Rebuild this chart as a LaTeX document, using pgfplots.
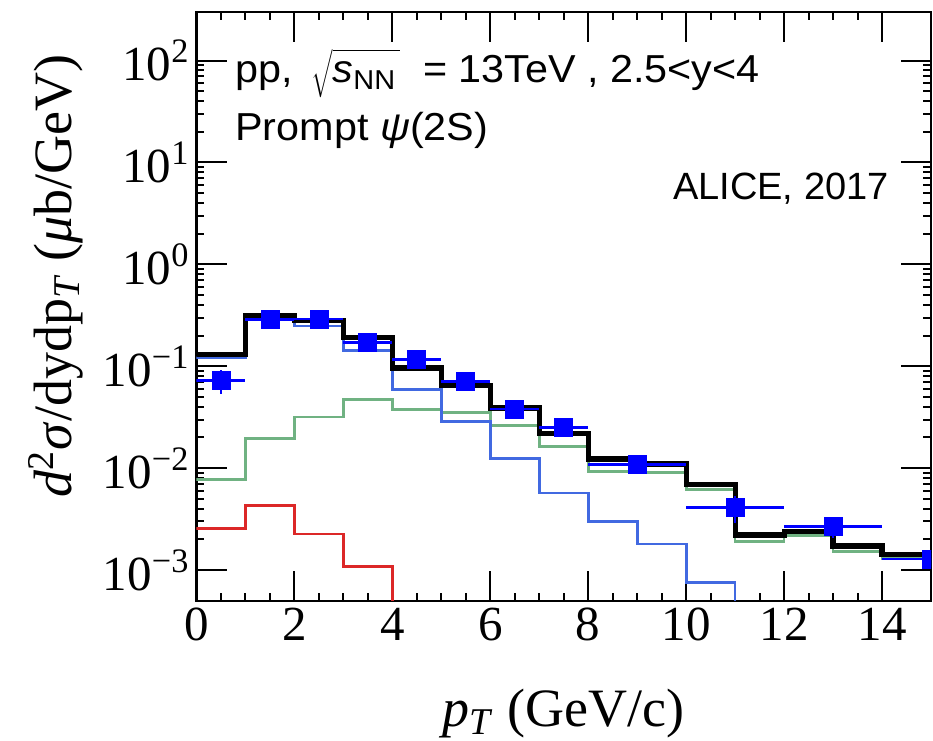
\documentclass[border=0pt]{standalone}
\usepackage{fontspec}
\setmainfont{Liberation Serif}
\newfontfamily\helv{Liberation Sans}
\usepackage{pgfplots}
\pgfplotsset{compat=1.18}

\definecolor{histblue}{RGB}{65,105,225}
\definecolor{histgreen}{RGB}{112,178,130}
\definecolor{histred}{RGB}{220,40,40}
\definecolor{datablue}{RGB}{0,0,255}

\begin{document}
\begin{tikzpicture}
\path[use as bounding box] (-98.25pt,-69.65pt) rectangle (368.25pt,300.35pt);
\begin{axis}[
  at={(0pt,0pt)}, anchor=south west,
  scale only axis, width=367.25pt, height=294.35pt,
  xmin=0, xmax=15,
  ymode=log, ymin=5e-4, ymax=3e2,
  xtick={0,2,...,14}, minor x tick num=3,
  ytick={1e-3,1e-2,1e-1,1,10,100},
  yticklabels={10\textsuperscript{−3},10\textsuperscript{−2},10\textsuperscript{−1},10\textsuperscript{0},10\textsuperscript{1},10\textsuperscript{2}},
  tick align=inside,
  xtick pos=both, ytick pos=both,
  major tick length=15pt, minor tick length=4pt,
  axis line style={line width=1.1pt},
  every tick/.style={black, line width=1pt},
  /pgf/number format/assume math mode=true,
  ticklabel style={font=\fontsize{24.5}{29}\selectfont},
  clip marker paths=true,
]
% feed-down / non-prompt contributions
\addplot[histred, line width=1.35pt, const plot, forget plot] coordinates {
  (0,0.00257) (1,0.0043) (2,0.00226) (3,0.00108) (4,1e-5)};
\addplot[histgreen, line width=1.35pt, const plot, forget plot] coordinates {
  (0,0.00769) (1,0.0196) (2,0.0318) (3,0.0471) (4,0.0376) (5,0.0353)
  (6,0.0264) (7,0.0162) (8,0.0093) (9,0.0091) (10,0.00622) (11,0.0019)
  (12,0.00218) (13,0.00151) (14,0.0013) (15,0.0013)};
\addplot[histblue, line width=1.35pt, const plot, forget plot] coordinates {
  (0,0.121) (1,0.293) (2,0.248) (3,0.143) (4,0.059) (5,0.0288)
  (6,0.0124) (7,0.00569) (8,0.003) (9,0.0018) (10,0.00076) (11,1e-5)};
% total
\addplot[black, line width=2.6pt, const plot, forget plot] coordinates {
  (0,0.131) (1,0.316) (2,0.279) (3,0.191) (4,0.096) (5,0.0645)
  (6,0.039) (7,0.0219) (8,0.0123) (9,0.011) (10,0.0069) (11,0.00221)
  (12,0.00238) (13,0.00172) (14,0.00141) (15,0.00141)};
% measured cross section
\addplot[datablue, only marks, mark=square*, mark size=4.5pt,
  mark options={fill=datablue, draw=datablue},
  error bars/.cd, x dir=both, x explicit, y dir=both, y explicit,
  error mark=none,
  error bar style={datablue, line width=1.35pt}]
  coordinates {
  (0.5,0.0724) +- (0.5,0.0185)
  (1.5,0.289)  +- (0.5,0.02)
  (2.5,0.291)  +- (0.5,0.02)
  (3.5,0.170)  +- (0.5,0.012)
  (4.5,0.117)  +- (0.5,0.008)
  (5.5,0.071)  +- (0.5,0.005)
  (6.5,0.038)  +- (0.5,0.003)
  (7.5,0.0252) +- (0.5,0.002)
  (9,0.0108)   +- (1,0.0012)
  (11,0.00411) +- (1,0.0012)
  (13,0.00267) +- (1,0.0006)
  (15,0.00128) +- (1,0.0002)};
\end{axis}
% axis titles
\node[anchor=base, font=\fontsize{27}{32}\selectfont] at (183.6pt,-63pt)
  {\textit{p}\textsubscript{\textit{T}} (GeV/c)};
\node[anchor=base, rotate=90, font=\fontsize{27}{32}\selectfont] at (-62.25pt,162.5pt)
  {\textit{d}\textsuperscript{2}\textit{σ}/dydp\textsubscript{\textit{T}} (\textit{μ}b/GeV)};
% annotations
\node[anchor=base west, inner sep=0pt, xscale=1.06, font=\helv\fontsize{19.5}{23}\selectfont] at (19.25pt,258.85pt)
  {pp,\hspace{0.45em}$\sqrt{\rule[-6pt]{0pt}{20pt}\mbox{\helv\fontsize{19.5}{23}\selectfont\textit{s}\textsubscript{NN}}\hspace{0.1em}}$\hspace{0.55em}= 13TeV , 2.5<y<4};
\node[anchor=base west, inner sep=0pt, xscale=1.06, font=\helv\fontsize{19.5}{23}\selectfont] at (19.25pt,230.1pt)
  {Prompt \textit{ψ}(2S)};
\node[anchor=base east, inner sep=0pt, font=\helv\fontsize{19}{23}\selectfont] at (346.25pt,200.35pt)
  {ALICE, 2017};
\end{tikzpicture}
\end{document}
